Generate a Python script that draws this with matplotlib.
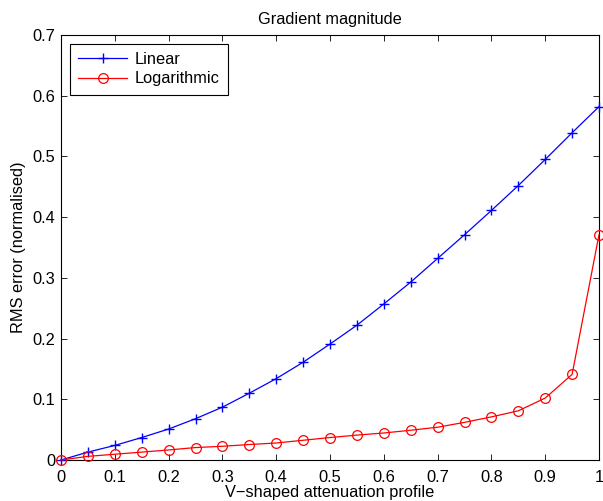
import matplotlib
matplotlib.use("Agg")
import matplotlib.pyplot as plt

plt.rcParams['font.family'] = ['Liberation Sans', 'DejaVu Sans']

# Attenuation profile steps
profile = [0.00, 0.05, 0.10, 0.15, 0.20, 0.25, 0.30, 0.35, 0.40, 0.45, 0.50,
           0.55, 0.60, 0.65, 0.70, 0.75, 0.80, 0.85, 0.90, 0.95, 1.00]

# Normalised RMS error of the gradient magnitude
linear_err = [0.000, 0.013, 0.024, 0.037, 0.051, 0.068, 0.087, 0.110, 0.134, 0.161, 0.191,
              0.222, 0.257, 0.293, 0.332, 0.371, 0.411, 0.452, 0.495, 0.539, 0.582]
log_err = [0.000, 0.006, 0.0095, 0.013, 0.0165, 0.0205, 0.0226, 0.0255, 0.028, 0.0325, 0.037,
           0.041, 0.0445, 0.049, 0.054, 0.062, 0.071, 0.081, 0.102, 0.141, 0.371]

xticks = [0, 0.1, 0.2, 0.3, 0.4, 0.5, 0.6, 0.7, 0.8, 0.9, 1]
xtick_labels = ['0', '0.1', '0.2', '0.3', '0.4', '0.5', '0.6', '0.7', '0.8', '0.9', '1']
yticks = [0, 0.1, 0.2, 0.3, 0.4, 0.5, 0.6, 0.7]
ytick_labels = ['0', '0.1', '0.2', '0.3', '0.4', '0.5', '0.6', '0.7']

fig = plt.figure(figsize=(6.03, 5.01), dpi=100)
ax = fig.add_axes([61 / 603, 1 - 460 / 501, 538 / 603, 425 / 501])

ax.plot(profile, linear_err, color='blue', lw=0.9, marker='+', ms=7.5, mew=1.0,
        label='Linear', clip_on=False, zorder=3)
ax.plot(profile, log_err, color='red', lw=0.9, marker='o', ms=7, mew=0.9,
        mfc='none', label='Logarithmic', clip_on=False, zorder=3)

ax.set_xlim(0, 1)
ax.set_ylim(0, 0.7)
ax.set_xticks(xticks)
ax.set_xticklabels(xtick_labels)
ax.set_yticks(yticks)
ax.set_yticklabels(ytick_labels)
ax.tick_params(direction='in', top=True, right=True, length=4, width=0.6,
               labelsize=11.8)
ax.tick_params(axis='x', pad=7)
ax.tick_params(axis='y', pad=4)
for s in ax.spines.values():
    s.set_linewidth(0.8)

ax.set_title('Gradient magnitude', fontsize=11.8, pad=8)
ax.set_xlabel('V\u2212shaped attenuation profile', fontsize=11.8, labelpad=0)
ax.set_ylabel('RMS error (normalised)', fontsize=11.8, labelpad=5)

leg = ax.legend(loc='upper left', fontsize=11.8, fancybox=False, framealpha=1,
                edgecolor='black', borderaxespad=0.55, handlelength=3.0,
                borderpad=0.5, labelspacing=0.25, handletextpad=0.45)
leg.get_frame().set_linewidth(0.8)

fig.savefig('out.png', dpi=100)
